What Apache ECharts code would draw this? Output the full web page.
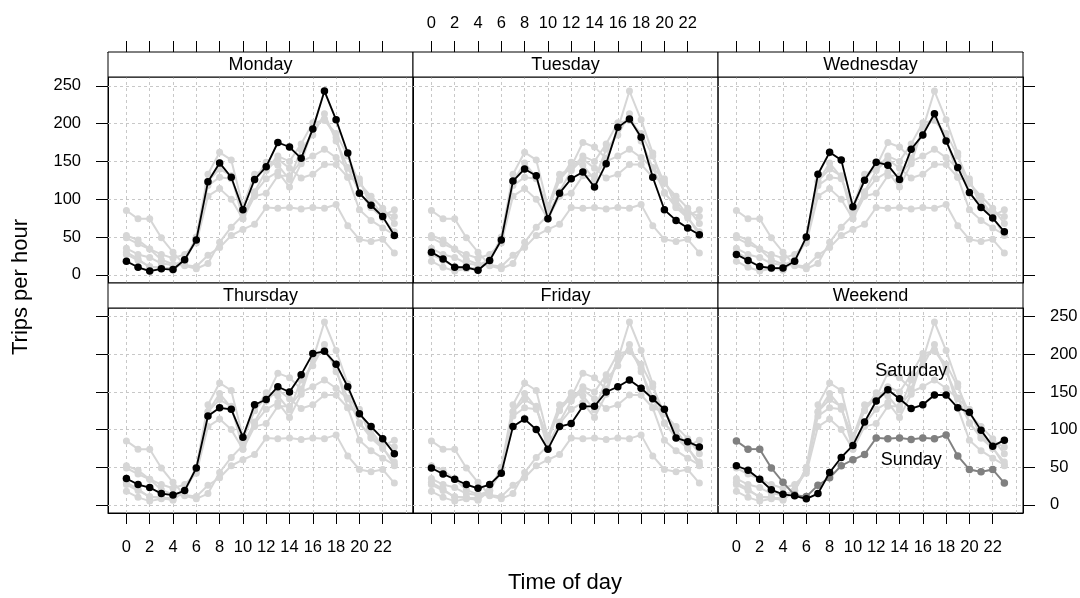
<!DOCTYPE html>
<html><head><meta charset="utf-8">
<script src="https://cdn.jsdelivr.net/npm/echarts@6/dist/echarts.min.js"></script>
<style>html,body{margin:0;padding:0;background:#fff}#c{width:1080px;height:598px}</style>
</head><body><div id="c"></div>
<script>
// ---- data ----
const hours = [0,1,2,3,4,5,6,7,8,9,10,11,12,13,14,15,16,17,18,19,20,21,22,23];
const monday    = [18,10,5,8,7,20,46,123,148,129,86,126,143,175,169,154,193,243,205,161,108,92,77,52];
const tuesday   = [30,21,10,10,6,19,46,124,140,131,74,108,127,136,116,147,195,206,182,129,86,72,62,53];
const wednesday = [27,19,11,9,9,18,50,133,162,152,90,125,149,145,126,166,185,213,177,142,109,89,75,57];
const thursday  = [35,27,23,15,13,19,49,118,129,127,90,133,140,157,150,173,201,204,187,157,121,104,88,68];
const friday    = [49,41,34,27,22,27,42,104,114,100,74,104,108,131,131,150,157,166,155,141,127,89,84,77];
const saturday  = [52,46,34,20,14,12,8,15,43,63,79,110,138,153,141,128,133,146,146,129,123,99,78,86];
const sunday    = [85,74,74,49,30,13,11,26,36,52,60,67,89,88,89,87,89,88,93,65,47,44,47,29];
const panelNames = ['Monday','Tuesday','Wednesday','Thursday','Friday','Weekend'];
const xTicks = [0,2,4,6,8,10,12,14,16,18,20,22];
const xGridLines = [0,2,4,6,8,10,12,14,16,18,20,22,24];
const yTicks = [0,50,100,150,200,250];
const weekendLabels = [{name:'Saturday', x:15, y:178}, {name:'Sunday', x:15, y:59}];

// ---- layout ----
const FONT = '"Liberation Sans", Arial, sans-serif';
const allDays = [monday,tuesday,wednesday,thursday,friday,saturday,sunday];
const highlight = [[monday],[tuesday],[wednesday],[thursday],[friday],[sunday,saturday]];
const hiColors = [['#000'],['#000'],['#000'],['#000'],['#000'],['#808080','#000']];
const GREY = '#d6d6d6';
const colLeft = [108,413,718];
const W = 305, STRIP = 25;
const rowsL = [{stripTop:52, plotTop:77, plotH:206},{stripTop:283, plotTop:308, plotH:205}];
const X_MIN = -1.58, X_MAX = 24.6, Y_MIN = -10.8, Y_MAX = 261.6;

const toPts = arr => hours.map((h,i)=>[h, arr[i]]);

const grids = [], xAxes = [], yAxes = [], series = [], graphics = [];
function addDay(p, d, color, z, lw, size) {
  series.push({type:'line', xAxisIndex:p, yAxisIndex:p, data: toPts(d), z:z, silent:true,
    showSymbol:false, symbol:'none', emphasis:{disabled:true},
    lineStyle:{color:color, width:lw}});
  series.push({type:'scatter', xAxisIndex:p, yAxisIndex:p, data: toPts(d), z:z, silent:true,
    symbol:'circle', symbolSize:size, emphasis:{disabled:true},
    itemStyle:{color:color, borderWidth:0, opacity:1}});
}
panelNames.forEach((name, p) => {
  const row = Math.floor(p/3), col = p%3;
  const L = rowsL[row];
  grids.push({left: colLeft[col], top: L.plotTop, width: W, height: L.plotH,
    show: true, borderColor: '#000', borderWidth: 1, backgroundColor: 'transparent',
    containLabel: false, outerBoundsMode: 'none'});
  // x axis
  const xLabeled = (row===0 && col===1) || (row===1 && col!==1);
  xAxes.push({type:'value', gridIndex:p, min:X_MIN, max:X_MAX,
    position: row===0 ? 'top' : 'bottom', offset: row===0 ? STRIP : 0,
    axisLine:{show:true, onZero:false, lineStyle:{color:'#000', width:1}}, splitLine:{show:false},
    axisTick:{show:true, inside:false, length:11, customValues: xTicks, lineStyle:{color:'#000', width:1}},
    axisLabel:{show:xLabeled, customValues: xTicks, margin: row===0 ? 20 : 26,
      fontSize:16.5, fontFamily:FONT, color:'#000'}});
  // y axis
  let yPos = 'left', yTick = false, yLab = false;
  if (p===0) {yTick=true; yLab=true;}
  if (p===3) {yTick=true;}
  if (p===2) {yPos='right'; yTick=true;}
  if (p===5) {yPos='right'; yTick=true; yLab=true;}
  yAxes.push({type:'value', gridIndex:p, min:Y_MIN, max:Y_MAX, position:yPos,
    axisLine:{show:true, onZero:false, lineStyle:{color:'#000', width:1}}, splitLine:{show:false},
    axisTick:{show:yTick, inside:false, length:12, customValues: yTicks, lineStyle:{color:'#000', width:1}},
    axisLabel:{show:yLab, customValues: yTicks, margin:27, fontSize:16.5, fontFamily:FONT, color:'#000'}});
  // gridlines (drawn beneath everything)
  series.push({type:'line', xAxisIndex:p, yAxisIndex:p, data:[], z:1, silent:true,
    markLine:{z:1, silent:true, symbol:['none','none'], label:{show:false}, animation:false,
      lineStyle:{color:'#c8c8c8', width:1, type:[3,3]},
      emphasis:{disabled:true},
      data: xGridLines.map(v=>({xAxis:v})).concat(yTicks.map(v=>({yAxis:v})))}});
  // grey background lines
  allDays.forEach(d => addDay(p, d, GREY, 2, 2, 7));
  // highlighted day(s)
  highlight[p].forEach((d, k) => addDay(p, d, hiColors[p][k], 3+k, 1.8, 7.5));
  if (p===5) {
    series.push({type:'scatter', xAxisIndex:p, yAxisIndex:p, z:6, silent:true,
      symbolSize:0, itemStyle:{opacity:1}, data: weekendLabels.map(l=>({value:[l.x,l.y], name:l.name})),
      label:{show:true, position:'inside', formatter:'{b}', fontSize:18, fontFamily:FONT, color:'#000',
        opacity:1, textBorderWidth:0}});
  }
  // strip
  graphics.push({type:'rect', shape:{x:colLeft[col], y:L.stripTop, width:W, height:STRIP},
    style:{fill:'#fff', stroke:'#000', lineWidth:1}, z:10});
  graphics.push({type:'text', x: colLeft[col]+W/2, y: L.stripTop+STRIP/2+1, z:11,
    style:{text:name, align:'center', verticalAlign:'middle', fontSize:18, fontFamily:FONT, fill:'#000'}});
});
graphics.push({type:'text', x:21, y:287, rotation:Math.PI/2, z:11,
  style:{text:'Trips per hour', align:'center', verticalAlign:'middle', fontSize:22, fontFamily:FONT, fill:'#000'}});
graphics.push({type:'text', x:565, y:583, z:11,
  style:{text:'Time of day', align:'center', verticalAlign:'middle', fontSize:22, fontFamily:FONT, fill:'#000'}});

const chart = echarts.init(document.getElementById('c'), null, {renderer:'canvas'});
chart.setOption({animation:false, backgroundColor:'#fff',
  grid:grids, xAxis:xAxes, yAxis:yAxes, series:series, graphic:graphics});
</script></body></html>
